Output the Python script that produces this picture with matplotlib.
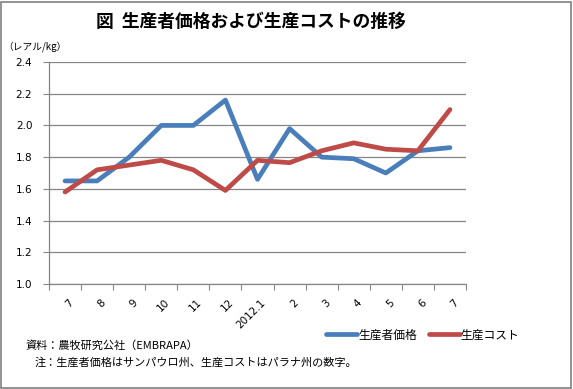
import matplotlib
matplotlib.use("Agg")
import matplotlib.pyplot as plt
from matplotlib.patches import Rectangle
import numpy as np

plt.rcParams['font.family'] = ['Noto Sans CJK JP', 'DejaVu Sans']

categories = ["7", "8", "9", "10", "11", "12", "2012.1", "2", "3", "4", "5", "6", "7"]
producer_price = [1.65, 1.65, 1.80, 2.00, 2.00, 2.16, 1.66, 1.98, 1.80, 1.79, 1.70, 1.84, 1.86]
production_cost = [1.58, 1.72, 1.75, 1.78, 1.72, 1.59, 1.78, 1.765, 1.84, 1.89, 1.85, 1.84, 2.10]
yticks = [1.0, 1.2, 1.4, 1.6, 1.8, 2.0, 2.2, 2.4]

W, H = 573, 389
fig = plt.figure(figsize=(W/100, H/100), dpi=100)
fig.patches.append(Rectangle((1/W, 1/H), 1 - 3/W, 1 - 3/H, transform=fig.transFigure,
                             fill=False, edgecolor='#808080', linewidth=1.2))

left, right, top, bottom = 49, 466, 62, 284
ax = fig.add_axes([left/W, 1 - bottom/H, (right-left)/W, (bottom-top)/H])

x = np.arange(len(categories))
ax.plot(x, producer_price, color='#4A7EBB', linewidth=3.4, solid_capstyle='round', label='生産者価格', zorder=3)
ax.plot(x, production_cost, color='#BE4B48', linewidth=3.4, solid_capstyle='round', label='生産コスト', zorder=3)

ax.set_xlim(-0.5, len(categories) - 0.5)
ax.set_ylim(1.0, 2.4)
ax.set_yticks(yticks)
ax.set_yticklabels([f"{v:.1f}" for v in yticks], fontsize=7.5, family='DejaVu Sans')
ax.yaxis.grid(True, color='#868686', linewidth=0.9)
ax.set_axisbelow(True)
for s in ['top', 'right']:
    ax.spines[s].set_visible(False)
for s in ['left', 'bottom']:
    ax.spines[s].set_color('#868686')
    ax.spines[s].set_linewidth(0.9)
ax.tick_params(axis='y', length=4, color='#868686', pad=8, direction='out')

ax.set_xticks(np.arange(-0.5, len(categories), 1.0))
ax.set_xticklabels([])
ax.tick_params(axis='x', length=4, color='#868686', direction='out')
for i, c in enumerate(categories):
    ax.text(i + 0.1, -0.06, c, transform=ax.get_xaxis_transform(), rotation=45,
            ha='right', va='top', fontsize=7.5, rotation_mode='anchor', family='DejaVu Sans')

fig.text(251/W, 1 - 22/H, "図  生産者価格および生産コストの推移", ha='center', va='center',
         fontsize=12.8, weight='bold')
fig.text(3/W, 1 - 47/H, "（レアル/kg）", ha='left', va='center', fontsize=7)

leg = fig.legend(loc='center', bbox_to_anchor=(423/W, 1 - 335/H), ncol=2, frameon=False,
                 fontsize=8.5, handlelength=2.6, columnspacing=1.0, handletextpad=0.1)

fig.text(25/W, 1 - 346/H, "資料：農牧研究公社（EMBRAPA）", ha='left', va='center', fontsize=8)
fig.text(35/W, 1 - 362/H, "注：生産者価格はサンパウロ州、生産コストはパラナ州の数字。", ha='left', va='center', fontsize=8)

fig.savefig("out.png", dpi=100)
